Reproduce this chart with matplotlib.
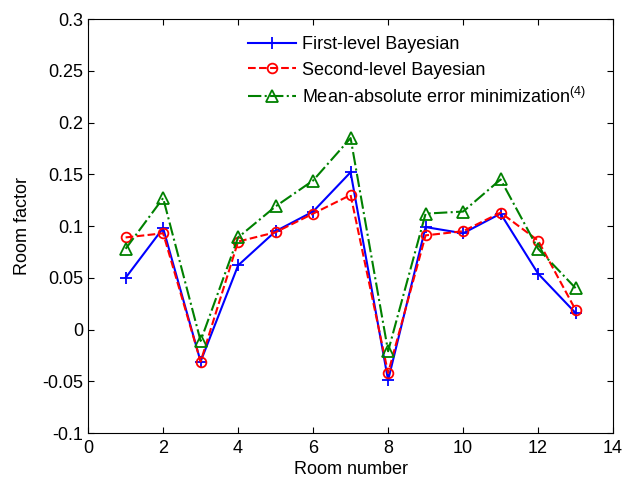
import numpy as np
import matplotlib
matplotlib.use('Agg')
import matplotlib.pyplot as plt

plt.rcParams['font.family'] = ['Liberation Sans', 'DejaVu Sans']
plt.rcParams['mathtext.default'] = 'regular'

rooms = np.arange(1, 14)
first_level = [0.050, 0.098, -0.031, 0.062, 0.095, 0.114, 0.152, -0.049,
               0.099, 0.093, 0.112, 0.054, 0.016]
second_level = [0.089, 0.093, -0.031, 0.085, 0.094, 0.112, 0.130, -0.042,
                0.091, 0.095, 0.113, 0.086, 0.019]
mae_min = [0.078, 0.127, -0.011, 0.089, 0.119, 0.144, 0.185, -0.021,
           0.112, 0.114, 0.145, 0.078, 0.040]

fig = plt.figure(figsize=(6.34, 4.83), dpi=100)
ax = fig.add_axes([0.139, 0.1035, 0.828, 0.857])

ax.plot(rooms, first_level, '-', color='blue', marker='+', ms=9, mew=1.3,
        lw=1.5, label='First-level Bayesian')
ax.plot(rooms, second_level, '--', color='red', marker='o', ms=7, mew=1.3,
        mfc='none', lw=1.5, label='Second-level Bayesian')
ax.plot(rooms, mae_min, '-.', color='green', marker='^', ms=8, mew=1.3,
        mfc='none', lw=1.5, label='Mean-absolute error minimization$^{(4)}$')

ax.set_xlim(0, 14)
ax.set_ylim(-0.1, 0.3)
ax.set_xticks(np.arange(0, 15, 2))
ax.set_yticks(np.arange(-0.1, 0.301, 0.05))
ax.set_yticklabels(['-0.1', '-0.05', '0', '0.05', '0.1', '0.15', '0.2', '0.25', '0.3'])
ax.tick_params(direction='in', top=True, right=True, labelsize=13, length=4)
ax.tick_params(axis='x', pad=5)
ax.set_xlabel('Room number', fontsize=13, labelpad=3)
ax.set_ylabel('Room factor', fontsize=13, labelpad=8)

ax.legend(loc='upper left', bbox_to_anchor=(0.305, 0.958), frameon=False,
          fontsize=13, handlelength=2.65, handletextpad=0.35,
          labelspacing=0.45, borderpad=0, borderaxespad=0)

fig.savefig('out.png', dpi=100)
